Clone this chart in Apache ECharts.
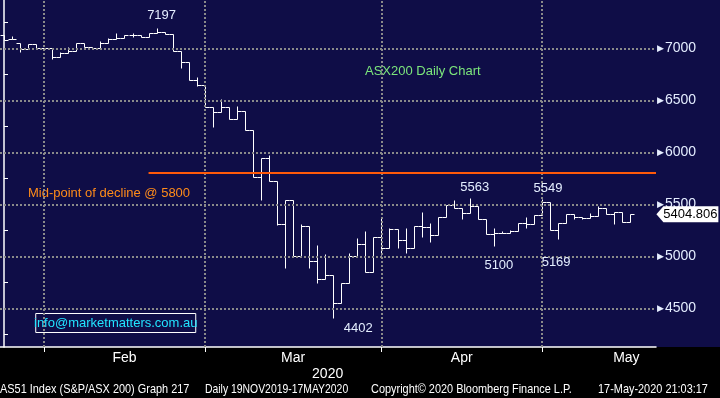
<!DOCTYPE html>
<html>
<head>
<meta charset="utf-8">
<script src="https://cdn.jsdelivr.net/npm/echarts@6/dist/echarts.min.js"></script>
<style>
  html, body { margin: 0; padding: 0; background: #000; }
  #chart { width: 720px; height: 398px; }
</style>
</head>
<body>
<div id="chart"></div>
<script>
// ASX200 daily bars, late Jan -> mid May 2020
var opens  = [7125, 7087, 7048, 6990, 7038, 7003, 7003, 6920, 6952, 6974,
              7048, 7016, 7006, 7051, 7090, 7099, 7131, 7131, 7112, 7144,
              7157, 7138, 6971, 6868, 6695, 6650, 6438, 6385, 6433, 6323,
              6397, 6212, 5760, 5942, 5721, 5308, 5541, 5000, 5289, 4952,
              4779, 4818, 4548, 4740, 5000, 5115, 4846, 5183, 5077, 5260,
              5157, 5077, 5294, 5285, 5205, 5381, 5493, 5462, 5414, 5487,
              5356, 5214, 5221, 5221, 5247, 5323, 5308, 5397, 5525, 5253,
              5317, 5404, 5381, 5365, 5391, 5462, 5404, 5423, 5327];
var highs  = [7125, 7118, 7048, 7038, 7038, 7006, 7003, 6961, 7010, 7048,
              7048, 7016, 7067, 7099, 7150, 7131, 7150, 7131, 7144, 7197,
              7157, 7138, 6971, 6868, 6721, 6650, 6438, 6515, 6433, 6445,
              6397, 6212, 5942, 5974, 5721, 5541, 5541, 5308, 5289, 5109,
              5022, 4818, 4740, 5029, 5173, 5243, 5183, 5365, 5269, 5260,
              5269, 5294, 5423, 5317, 5381, 5493, 5541, 5462, 5563, 5487,
              5356, 5269, 5240, 5250, 5323, 5375, 5397, 5549, 5525, 5317,
              5404, 5404, 5381, 5413, 5487, 5462, 5429, 5423, 5405];
var lows   = [7080, 7087, 6967, 6990, 7000, 7000, 6900, 6920, 6952, 6974,
              7016, 6996, 7006, 7051, 7090, 7099, 7112, 7112, 7112, 7144,
              7138, 6971, 6808, 6695, 6637, 6438, 6246, 6385, 6320, 6323,
              6212, 5760, 5541, 5721, 5298, 4885, 5000, 5000, 4888, 4746,
              4779, 4402, 4548, 4740, 5000, 4846, 4846, 5013, 5077, 5077,
              5029, 5077, 5189, 5141, 5205, 5381, 5462, 5356, 5414, 5356,
              5214, 5100, 5221, 5221, 5247, 5275, 5308, 5397, 5253, 5169,
              5317, 5356, 5356, 5365, 5391, 5404, 5308, 5327, 5327];
var closes = [7080, 7087, 6990, 7038, 7000, 7003, 6920, 6952, 6974, 7048,
              7016, 7006, 7051, 7090, 7099, 7131, 7131, 7112, 7144, 7157,
              7138, 6971, 6868, 6695, 6650, 6438, 6385, 6433, 6323, 6397,
              6212, 5760, 5942, 5721, 5308, 5541, 5000, 5289, 4952, 4779,
              4818, 4548, 4740, 5000, 5115, 4846, 5183, 5077, 5260, 5157,
              5077, 5294, 5285, 5205, 5381, 5493, 5462, 5414, 5487, 5356,
              5214, 5221, 5221, 5247, 5323, 5308, 5397, 5525, 5253, 5317,
              5404, 5381, 5365, 5391, 5462, 5404, 5423, 5327, 5404.806];

var monthNames  = ['Feb', 'Mar', 'Apr', 'May'];
var monthStarts = [5, 25, 47, 67];
var monthMids   = [15, 36, 57, 77.5];
var yearLabel   = '2020';
var yearPos     = 40.3;

var priceLabels = [4500, 5000, 5500, 6000, 6500, 7000];
var minorTicks  = [4250, 4750, 5250, 5750, 6250, 6750, 7250];
var midPoint = 5800;
var midPointFrom = 18;

// [bar index, value, text offset]
var callouts = [
  [19, 7197, [5, -12]],
  [58, 5563, [5, -10]],
  [67, 5549, [6, -11]],
  [61, 5100, [5, 20]],
  [69, 5169, [-2, 24]],
  [41, 4402, [25, 10]]
];

var chart = echarts.init(document.getElementById('chart'));

var bars = opens.map(function (o, i) {
  return [i, o, highs[i], lows[i], closes[i]];
});
var last = bars.length - 1;

var navy = '#0f0d47';
var dotted = { color: '#8a8a8a', width: 2, type: [2, 2] };
var footFont = '13px "Liberation Sans", Arial, sans-serif';

function renderBar(params, api) {
  var i = api.value(0);
  var x = Math.round(api.coord([i, 0])[0]) + 0.5;
  var yy = function (v) { return Math.round(api.coord([i, v])[1]) + 0.5; };
  var yO = yy(api.value(1)), yH = yy(api.value(2)), yL = yy(api.value(3)), yC = yy(api.value(4));
  var st = { stroke: '#ffffff', lineWidth: 1 };
  return {
    type: 'group',
    children: [
      { type: 'line', shape: { x1: x, y1: yH, x2: x, y2: yL }, style: st },
      { type: 'line', shape: { x1: x - 4, y1: yO, x2: x, y2: yO }, style: st },
      { type: 'line', shape: { x1: x, y1: yC, x2: x + 4, y2: yC }, style: st }
    ]
  };
}

var option = {
  animation: false,
  backgroundColor: {
    type: 'linear', x: 0, y: 0, x2: 0, y2: 1,
    colorStops: [
      { offset: 0, color: navy },
      { offset: 0.8725, color: navy },
      { offset: 0.8725, color: '#000' },
      { offset: 1, color: '#000' }
    ]
  },
  textStyle: { fontFamily: 'Liberation Sans, Arial, sans-serif' },
  grid: { left: 0, right: 64, top: 0, bottom: 51 },
  xAxis: [{
    type: 'value',
    min: -0.5,
    max: 81.19,
    axisLine: { show: true, lineStyle: { color: '#ffffff', width: 1.5 } },
    axisTick: { show: true, customValues: monthStarts, length: 5, lineStyle: { color: '#ffffff' } },
    axisLabel: {
      customValues: monthMids,
      formatter: function (v) { return monthNames[monthMids.indexOf(v)]; },
      color: '#ffffff',
      fontSize: 14,
      margin: 4
    },
    splitLine: { show: false }
  }, {
    type: 'value',
    position: 'bottom',
    offset: 16,
    min: -0.5,
    max: 81.19,
    axisLine: { show: false },
    axisTick: { show: false },
    axisLabel: {
      customValues: [yearPos],
      formatter: function () { return yearLabel; },
      color: '#ffffff',
      fontSize: 14,
      margin: 4
    },
    splitLine: { show: false }
  }],
  yAxis: {
    type: 'value',
    position: 'right',
    min: 4128,
    max: 7464,
    axisLine: { show: true, lineStyle: { color: '#ffffff', width: 1.5 } },
    axisTick: { show: true, customValues: minorTicks, length: 4, lineStyle: { color: '#ffffff' } },
    axisLabel: {
      customValues: priceLabels,
      margin: 1,
      formatter: function (v) { return '{p|\u25B6}{v|' + v + '}'; },
      rich: {
        p: { color: '#e6eeff', fontSize: 9, padding: [0, 1, 0, 0] },
        v: { color: '#e4edff', fontSize: 14, fontFamily: 'Liberation Sans, Arial, sans-serif' }
      }
    },
    splitLine: { show: false }
  },
  series: [{
    // dotted grid
    type: 'line',
    data: [],
    z: 1,
    silent: true,
    markLine: {
      silent: true,
      symbol: 'none',
      label: { show: false },
      lineStyle: dotted,
      data: priceLabels.map(function (v) { return { yAxis: v }; })
        .concat(monthStarts.map(function (m) { return { xAxis: m }; }))
    }
  }, {
    type: 'custom',
    name: 'AS51',
    z: 3,
    renderItem: renderBar,
    encode: { x: 0, y: [1, 2, 3, 4] },
    data: bars,
    markPoint: {
      symbol: 'circle',
      symbolSize: 0,
      itemStyle: { color: 'transparent' },
      data: callouts.map(function (c) {
        return {
          coord: [c[0], c[1]],
          label: {
            show: true, position: 'inside', offset: c[2],
            formatter: String(c[1]),
            color: '#e4eeff', fontSize: 13,
            fontFamily: 'Liberation Sans, Arial, sans-serif'
          }
        };
      }).concat([{
        coord: [last, closes[last]],
        symbol: 'path://M0,8 L7,0 L62,0 L62,16 L7,16 Z',
        symbolSize: [62, 16],
        symbolKeepAspect: false,
        symbolOffset: [57, 0],
        itemStyle: { color: '#ffffff' },
        label: {
          show: true, position: 'inside', offset: [3, 0],
          formatter: closes[last].toFixed(3),
          color: '#000000', fontSize: 13,
          fontFamily: 'Liberation Sans, Arial, sans-serif'
        }
      }])
    }
  }, {
    type: 'line',
    data: [],
    z: 4,
    silent: true,
    markLine: {
      silent: true,
      symbol: 'none',
      label: { show: false },
      lineStyle: { color: '#ff5a0a', width: 2, type: 'solid' },
      data: [[{ coord: [midPointFrom, midPoint] }, { coord: [81.19, midPoint] }]]
    }
  }],
  graphic: [{
    type: 'text', left: 365, top: 65,
    style: { text: 'ASX200 Daily Chart', fill: '#7ce67c', font: '13px "Liberation Sans", Arial, sans-serif' }
  }, {
    type: 'text', left: 28, top: 187,
    style: { text: 'Mid-point of decline @ ' + midPoint, fill: '#ff8c1a', font: '13px "Liberation Sans", Arial, sans-serif' }
  }, {
    type: 'group', left: 34, top: 313,
    children: [{
      type: 'rect', shape: { x: 0.5, y: 0.5, width: 160, height: 19 },
      style: { fill: navy, stroke: '#ffffff', lineWidth: 1 }
    }, {
      type: 'text', x: 80.5, y: 10,
      style: {
        text: 'info@marketmatters.com.au', fill: '#22e4ff',
        font: '13px "Liberation Sans", Arial, sans-serif', align: 'center', verticalAlign: 'middle'
      }
    }]
  }, {
    type: 'group', left: 0, top: 383,
    children: [
      { type: 'text', x: 2, y: 0, scaleX: 0.84, style: { text: 'AS51 Index (S&P/ASX 200) Graph 217', fill: '#fff', font: footFont } },
      { type: 'text', x: 207, y: 0, scaleX: 0.8, style: { text: 'Daily 19NOV2019-17MAY2020', fill: '#fff', font: footFont } },
      { type: 'text', x: 373, y: 0, scaleX: 0.84, style: { text: 'Copyright\u00A9 2020 Bloomberg Finance L.P.', fill: '#fff', font: footFont } },
      { type: 'text', x: 600, y: 0, scaleX: 0.84, style: { text: '17-May-2020 21:03:17', fill: '#fff', font: footFont } }
    ]
  }]
};

chart.setOption(option);
</script>
</body>
</html>
